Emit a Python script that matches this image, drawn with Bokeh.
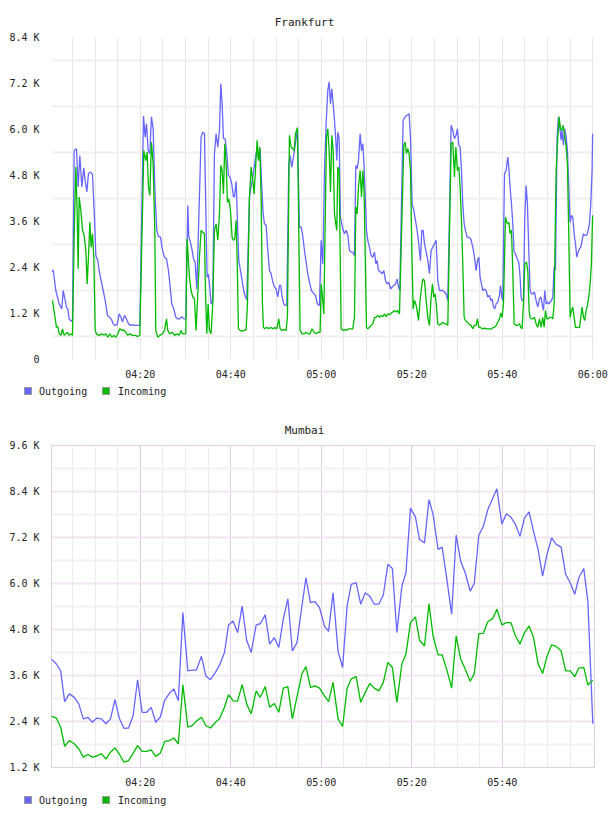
import datetime as dt

from bokeh.embed import file_html
from bokeh.layouts import column
from bokeh.models import DatetimeTickFormatter, Div, FixedTicker, Range1d, Title
from bokeh.plotting import figure
from bokeh.resources import INLINE

# ---------------------------------------------------------------------------
# Traffic samples: time in minutes after 04:00, rate in thousands (K)
# ---------------------------------------------------------------------------
FRA_OUT_T = [
    0.59, 0.74, 1.33, 2.06, 2.65, 2.95, 3.39, 3.68, 3.98, 4.27,
    4.71, 5.01, 5.38, 5.89, 6.26, 6.63, 7.07, 7.51, 7.81, 8.18,
    8.54, 8.99, 9.43, 9.80, 10.17, 10.61, 10.90, 11.34, 11.79, 12.23,
    12.74, 13.11, 13.55, 14.00, 14.44, 14.88, 15.32, 15.69, 16.06, 16.50,
    16.94, 17.38, 17.90, 18.42, 18.86, 19.37, 19.89, 20.70, 21.07, 21.36,
    21.73, 22.10, 22.46, 22.83, 23.28, 23.64, 24.01, 24.46, 24.90, 25.34,
    25.78, 26.22, 26.59, 26.96, 27.40, 27.84, 28.29, 28.73, 29.17, 29.61,
    30.05, 30.49, 30.71, 31.00, 31.45, 31.74, 32.11, 32.48, 33.43, 33.80,
    34.17, 34.54, 34.76, 35.06, 35.28, 35.64, 36.01, 36.38, 36.75, 37.12,
    37.49, 37.78, 38.08, 38.37, 38.74, 39.11, 39.47, 39.84, 40.21, 40.58,
    40.80, 41.17, 41.39, 41.76, 42.13, 42.50, 42.86, 43.23, 43.53, 44.12,
    44.48, 44.85, 45.22, 45.59, 45.88, 46.18, 46.47, 46.77, 47.14, 47.43,
    47.80, 48.17, 48.54, 48.90, 49.27, 49.64, 50.01, 50.38, 50.75, 51.04,
    51.33, 51.70, 52.07, 52.37, 52.81, 53.10, 53.47, 53.84, 54.28, 54.72,
    55.16, 55.53, 55.83, 56.27, 56.64, 57.01, 57.37, 57.82, 58.26, 58.70,
    59.14, 59.58, 59.96, 60.33, 60.70, 61.06, 61.43, 61.73, 62.02, 62.32,
    62.61, 62.91, 63.20, 63.42, 63.64, 63.94, 64.23, 64.53, 64.82, 65.12,
    65.48, 65.85, 66.22, 66.59, 66.96, 67.33, 67.62, 67.92, 68.21, 68.58,
    68.87, 69.17, 69.46, 69.98, 70.27, 70.64, 71.01, 71.38, 71.75, 72.04,
    72.33, 72.63, 73.07, 73.44, 73.81, 74.18, 74.54, 74.91, 75.28, 75.65,
    76.02, 76.39, 76.75, 77.05, 77.34, 78.08, 78.52, 78.96, 79.40, 79.70,
    80.07, 80.44, 80.80, 81.17, 81.54, 81.91, 82.21, 82.50, 82.79, 83.16,
    83.53, 83.90, 84.27, 84.64, 85.00, 85.37, 85.74, 86.11, 86.48, 86.85,
    87.21, 87.58, 87.95, 88.69, 89.06, 89.42, 89.79, 90.08, 90.38, 90.67,
    90.97, 91.26, 91.56, 91.85, 92.22, 92.59, 93.03, 93.47, 93.84, 94.21,
    94.50, 94.80, 95.09, 95.39, 95.68, 96.05, 96.42, 96.79, 97.16, 97.45,
    97.75, 98.04, 98.33, 98.63, 98.99, 99.37, 99.59, 99.88, 100.10, 100.47,
    100.84, 101.21, 101.43, 101.72, 102.02, 102.31, 102.61, 102.90, 103.27, 103.64,
    103.93, 104.15, 104.37, 104.67, 104.96, 105.26, 105.55, 105.85, 106.14, 106.44,
    106.73, 107.10, 107.47, 107.84, 108.21, 108.57, 108.79, 109.09, 109.38, 109.68,
    109.97, 110.27, 110.56, 110.86, 111.15, 111.45, 111.74, 112.11, 112.40, 112.70,
    112.99, 113.21, 113.51, 113.80, 114.10, 114.39, 114.98, 115.28, 115.57, 115.87,
    116.16, 116.46, 116.75, 117.05, 117.34, 117.63, 117.93, 118.22, 118.52, 118.81,
    119.25, 119.55, 119.84, 119.95,
]
FRA_OUT = [
    2.28, 2.34, 1.80, 1.45, 1.32, 1.80, 1.54, 1.35, 1.32, 1.06,
    1.00, 1.02, 5.45, 5.50, 4.50, 5.32, 4.50, 5.00, 4.67, 4.37,
    4.85, 4.89, 4.82, 3.89, 2.71, 2.58, 2.32, 2.06, 1.80, 1.54,
    1.15, 1.11, 1.06, 0.93, 0.89, 0.91, 1.19, 1.11, 0.98, 1.15,
    1.06, 0.93, 0.89, 0.91, 0.89, 0.89, 0.89, 6.35, 5.80, 6.15,
    5.45, 5.37, 6.33, 6.02, 4.24, 3.37, 3.21, 3.19, 2.85, 2.67,
    2.63, 2.32, 1.89, 1.45, 1.32, 1.10, 1.06, 1.06, 1.12, 1.06,
    1.06, 4.02, 3.19, 3.10, 2.85, 2.63, 2.54, 1.84, 5.80, 5.93,
    5.90, 3.50, 2.15, 2.22, 1.97, 1.45, 1.54, 5.37, 5.89, 5.54,
    5.98, 7.19, 6.67, 5.76, 5.76, 5.37, 4.80, 4.76, 4.58, 4.24,
    4.24, 4.65, 3.89, 2.58, 2.32, 2.06, 1.80, 1.63, 1.56, 4.24,
    4.50, 4.76, 5.06, 5.37, 5.50, 5.19, 5.50, 4.67, 3.80, 3.54,
    3.50, 2.85, 2.32, 2.24, 2.02, 1.89, 1.84, 1.63, 1.93, 1.93,
    1.63, 1.45, 1.41, 1.41, 5.10, 5.32, 5.02, 5.28, 5.63, 6.02,
    3.45, 3.45, 3.28, 2.85, 2.54, 2.24, 2.02, 1.80, 1.73, 1.67,
    1.45, 1.41, 3.11, 2.50, 4.93, 6.15, 7.02, 7.24, 6.67, 7.06,
    6.67, 6.24, 5.72, 5.19, 5.93, 5.76, 3.71, 3.54, 3.37, 3.28,
    3.37, 3.24, 2.85, 2.80, 2.80, 2.71, 5.06, 4.98, 5.19, 5.89,
    5.45, 5.63, 5.02, 3.37, 3.11, 2.93, 2.71, 2.67, 2.80, 2.50,
    2.58, 2.32, 2.28, 2.24, 2.32, 2.06, 1.97, 2.02, 1.84, 1.89,
    1.93, 1.97, 2.10, 1.89, 1.80, 6.24, 6.33, 6.37, 6.41, 5.80,
    4.06, 3.89, 3.63, 3.37, 3.02, 2.58, 3.37, 3.37, 3.02, 2.80,
    2.58, 2.24, 2.85, 2.93, 3.02, 3.11, 2.06, 1.80, 1.80, 1.80,
    1.76, 1.71, 1.54, 6.11, 5.98, 5.76, 5.85, 6.02, 5.59, 5.56,
    4.93, 4.06, 3.54, 3.37, 3.19, 3.19, 3.15, 2.93, 2.67, 2.32,
    2.58, 2.67, 2.15, 1.97, 1.80, 1.84, 1.80, 1.63, 1.67, 1.54,
    1.58, 1.37, 1.32, 1.45, 1.50, 1.67, 1.93, 1.63, 1.54, 4.85,
    4.93, 5.28, 5.02, 4.50, 4.06, 3.54, 2.80, 2.76, 2.63, 2.54,
    2.15, 1.63, 1.54, 1.54, 3.71, 4.54, 4.06, 2.85, 1.80, 1.71,
    1.71, 1.76, 1.54, 1.37, 1.58, 1.63, 1.45, 1.28, 1.80, 1.45,
    1.50, 1.45, 1.50, 1.54, 1.63, 2.41, 2.32, 5.80, 6.33, 6.07,
    5.72, 5.98, 5.59, 6.02, 5.80, 5.45, 3.58, 3.76, 3.71, 3.28,
    3.02, 2.67, 2.80, 2.89, 2.93, 3.11, 3.28, 3.24, 3.24, 3.28,
    3.54, 4.06, 4.93, 5.89,
]
FRA_IN_T = [
    0.59, 1.03, 1.47, 1.77, 2.06, 2.50, 2.80, 3.17, 3.54, 3.90,
    4.27, 4.71, 5.01, 5.45, 5.75, 6.04, 6.26, 6.48, 6.85, 7.22,
    7.59, 7.96, 8.25, 8.54, 8.84, 9.13, 9.43, 9.72, 10.02, 10.31,
    10.90, 11.49, 11.93, 12.37, 12.82, 13.26, 13.70, 14.14, 14.58, 15.03,
    15.47, 15.91, 16.35, 16.79, 17.24, 17.68, 18.27, 18.86, 19.37, 19.89,
    20.77, 21.21, 21.51, 21.80, 22.10, 22.46, 22.83, 23.20, 23.42, 23.87,
    24.31, 24.90, 25.34, 25.78, 26.07, 26.52, 27.11, 27.55, 28.14, 28.58,
    29.02, 29.32, 29.76, 30.05, 30.34, 30.86, 31.22, 31.59, 31.96, 32.33,
    33.07, 33.43, 33.80, 34.17, 34.39, 34.69, 34.98, 35.28, 35.64, 36.01,
    36.38, 36.75, 37.12, 37.49, 37.78, 38.08, 38.37, 38.66, 38.96, 39.25,
    39.55, 39.92, 40.28, 40.58, 40.87, 41.17, 41.39, 41.68, 42.05, 42.50,
    43.01, 43.38, 43.67, 44.12, 44.48, 44.85, 45.15, 45.44, 45.81, 46.10,
    46.40, 46.69, 46.99, 47.21, 47.50, 47.95, 48.39, 48.83, 49.27, 49.71,
    50.16, 50.60, 50.89, 51.33, 51.78, 52.22, 52.51, 52.95, 53.32, 53.69,
    53.99, 54.28, 54.72, 55.31, 55.75, 56.20, 56.64, 57.08, 57.52, 57.96,
    58.41, 58.85, 59.29, 59.73, 59.96, 60.25, 60.55, 61.14, 61.43, 61.73,
    62.02, 62.32, 62.61, 62.91, 63.20, 63.42, 63.64, 63.94, 64.38, 64.75,
    65.12, 65.48, 65.85, 66.22, 66.59, 66.96, 67.33, 67.62, 67.92, 68.21,
    68.58, 68.87, 69.17, 69.46, 69.98, 70.27, 70.64, 71.01, 71.38, 71.75,
    72.11, 72.48, 72.85, 73.22, 73.59, 73.96, 74.32, 74.69, 75.06, 75.43,
    75.80, 76.17, 76.53, 76.90, 77.27, 78.23, 78.52, 78.82, 79.11, 79.40,
    79.70, 79.99, 80.29, 80.58, 80.88, 81.17, 81.47, 81.76, 82.06, 82.43,
    82.79, 83.16, 83.53, 83.90, 84.27, 84.56, 84.86, 85.15, 85.45, 85.74,
    86.11, 86.48, 86.85, 87.21, 87.58, 87.95, 88.69, 89.06, 89.42, 89.72,
    90.08, 90.38, 90.67, 90.97, 91.26, 91.56, 91.85, 92.29, 92.74, 93.10,
    93.47, 93.84, 94.21, 94.50, 94.80, 95.09, 95.54, 96.05, 96.57, 97.01,
    97.45, 97.89, 98.26, 98.63, 98.99, 99.37, 99.66, 99.95, 100.25, 100.69,
    100.99, 101.21, 101.43, 101.72, 102.02, 102.31, 102.61, 103.05, 103.42, 103.79,
    104.08, 104.37, 104.67, 104.96, 105.33, 105.63, 105.92, 106.14, 106.44, 106.73,
    107.10, 107.47, 107.84, 108.21, 108.57, 108.94, 109.24, 109.53, 109.83, 110.12,
    110.42, 110.79, 111.15, 111.45, 111.89, 112.26, 112.55, 112.85, 113.14, 113.43,
    113.73, 114.10, 114.39, 114.69, 114.98, 115.28, 115.57, 115.87, 116.16, 116.61,
    117.05, 117.34, 117.63, 117.93, 118.22, 118.52, 118.81, 119.11, 119.40, 119.69,
    119.95,
]
FRA_IN = [
    1.54, 1.19, 0.84, 0.86, 0.67, 0.63, 0.80, 0.63, 0.67, 0.71,
    0.63, 0.67, 0.63, 3.63, 5.02, 3.80, 2.37, 4.24, 3.89, 3.37,
    3.24, 2.85, 1.97, 2.67, 3.58, 2.93, 3.28, 2.67, 0.76, 0.67,
    0.63, 0.67, 0.63, 0.67, 0.58, 0.67, 0.58, 0.63, 0.58, 0.67,
    0.80, 0.76, 0.77, 0.71, 0.63, 0.67, 0.63, 0.63, 0.60, 0.63,
    5.45, 5.19, 5.41, 4.50, 4.28, 5.67, 5.10, 3.37, 0.76, 0.58,
    0.63, 0.67, 0.76, 1.06, 0.76, 0.67, 0.71, 0.63, 0.67, 0.63,
    0.76, 0.67, 0.67, 0.67, 3.15, 2.15, 1.80, 1.63, 1.58, 0.76,
    2.67, 3.37, 3.32, 3.28, 1.80, 0.67, 1.45, 0.76, 0.67, 1.45,
    3.37, 3.54, 3.11, 3.80, 5.06, 4.93, 4.32, 5.63, 5.10, 4.10,
    4.19, 3.89, 3.19, 3.11, 3.15, 3.63, 2.67, 0.80, 0.76, 0.74,
    0.76, 0.78, 1.45, 4.24, 5.02, 4.67, 4.32, 4.93, 5.72, 5.19,
    5.54, 4.24, 1.45, 0.84, 0.80, 0.84, 0.80, 0.84, 0.80, 0.83,
    0.80, 1.06, 0.80, 0.76, 0.78, 0.76, 1.11, 5.85, 5.54, 5.50,
    5.45, 5.89, 6.05, 0.76, 0.67, 0.67, 0.71, 0.67, 0.67, 0.80,
    0.71, 0.67, 0.71, 0.71, 1.97, 1.63, 1.19, 5.80, 6.02, 5.45,
    4.37, 5.85, 5.45, 3.80, 3.54, 3.37, 5.02, 4.93, 0.80, 0.76,
    0.78, 0.76, 0.79, 0.80, 0.80, 0.80, 1.11, 3.98, 3.80, 4.50,
    4.93, 4.24, 4.93, 4.32, 0.84, 0.80, 0.84, 0.89, 0.93, 1.10,
    1.10, 1.15, 1.10, 1.15, 1.12, 1.19, 1.12, 1.19, 1.17, 1.21,
    1.24, 1.28, 1.24, 1.28, 1.19, 5.59, 5.67, 5.37, 5.50, 5.37,
    4.93, 2.93, 1.32, 1.54, 1.45, 1.28, 1.02, 1.45, 1.80, 2.10,
    2.06, 1.54, 1.10, 0.89, 1.63, 1.97, 1.63, 1.71, 1.37, 0.93,
    0.89, 0.93, 0.97, 0.93, 0.93, 0.89, 5.63, 5.67, 4.76, 5.54,
    4.93, 5.02, 4.50, 3.63, 2.50, 1.10, 1.02, 0.97, 0.91, 0.89,
    0.80, 0.89, 0.89, 1.06, 0.84, 0.84, 0.80, 0.82, 0.80, 0.80,
    0.79, 0.83, 0.84, 0.89, 0.97, 1.06, 1.21, 1.10, 1.45, 3.71,
    3.58, 3.54, 3.58, 3.28, 3.37, 2.32, 0.93, 0.89, 0.89, 0.93,
    0.84, 0.80, 1.45, 2.50, 2.54, 2.32, 1.28, 1.10, 1.06, 1.06,
    1.10, 0.93, 0.84, 1.06, 0.84, 1.10, 0.84, 1.28, 1.06, 1.06,
    1.10, 1.10, 1.06, 1.45, 4.93, 5.80, 6.33, 6.02, 5.98, 6.11,
    5.89, 5.54, 5.10, 3.20, 1.10, 1.28, 1.37, 1.10, 0.84, 0.84,
    0.83, 1.10, 1.37, 1.10, 1.02, 1.28, 1.41, 1.63, 1.97, 2.50,
    3.76,
]

MUM_T = [
    0.33, 1.44, 2.4, 3.28, 4.3, 5.4, 6.4, 7.4, 8.4, 9.4,
    10.4, 11.4, 12.4, 13.4, 14.4, 15.4, 16.4, 17.4, 18.4, 19.4,
    20.4, 21.4, 22.4, 23.4, 24.4, 25.4, 26.4, 27.4, 28.4, 29.4,
    30.5, 31.4, 32.4, 33.5, 34.5, 35.5, 36.6, 37.5, 38.6, 39.5,
    40.5, 41.5, 42.5, 43.5, 44.5, 45.6, 46.5, 47.6, 48.6, 49.6,
    50.6, 51.6, 52.6, 53.6, 54.6, 55.7, 56.6, 57.6, 58.6, 59.6,
    60.7, 61.6, 62.6, 63.7, 64.7, 65.7, 66.6, 67.7, 68.7, 69.7,
    70.7, 71.7, 72.7, 73.7, 74.7, 75.7, 76.7, 77.8, 78.7, 79.7,
    80.8, 81.7, 82.8, 83.8, 84.7, 85.8, 86.7, 87.8, 88.8, 89.8,
    90.8, 91.8, 92.9, 93.8, 94.8, 95.8, 96.8, 97.9, 98.8, 99.9,
    100.9, 101.9, 102.9, 103.9, 104.9, 105.9, 106.9, 107.9, 108.9, 109.9,
    110.9, 111.9, 113.0, 114.0, 115.0, 116.0, 116.9, 118.0, 118.9, 120.0,
]
MUM_OUT = [
    4.03, 3.90, 3.72, 2.92, 3.12, 3.03, 2.86, 2.47, 2.51, 2.38,
    2.49, 2.47, 2.34, 2.47, 2.97, 2.47, 2.22, 2.23, 2.55, 3.49,
    2.64, 2.64, 2.77, 2.38, 2.51, 2.96, 3.13, 3.25, 2.94, 5.24,
    3.72, 3.74, 3.74, 4.10, 3.59, 3.49, 3.68, 3.87, 4.20, 4.92,
    5.02, 4.72, 5.41, 4.52, 4.20, 4.92, 4.95, 5.18, 4.42, 4.59,
    4.33, 5.07, 5.60, 4.24, 4.45, 5.40, 6.15, 5.50, 5.53, 5.37,
    4.89, 4.75, 5.76, 4.23, 3.81, 5.41, 5.98, 6.02, 5.46, 5.76,
    5.67, 5.46, 5.46, 5.70, 6.50, 6.39, 4.72, 5.93, 6.28, 7.97,
    7.73, 7.15, 7.06, 8.19, 7.80, 6.89, 6.95, 6.06, 5.20, 7.26,
    6.58, 6.28, 5.80, 6.00, 7.26, 7.49, 7.93, 8.23, 8.47, 7.55,
    7.82, 7.73, 7.54, 7.23, 7.71, 7.87, 7.36, 6.89, 6.19, 6.77,
    7.19, 7.02, 6.95, 6.24, 6.02, 5.72, 6.15, 6.39, 5.54, 2.34,
]
MUM_IN = [
    2.54, 2.49, 2.25, 1.75, 1.90, 1.82, 1.69, 1.47, 1.54, 1.47,
    1.50, 1.56, 1.42, 1.60, 1.71, 1.54, 1.34, 1.38, 1.57, 1.77,
    1.62, 1.62, 1.66, 1.49, 1.57, 1.88, 1.90, 1.97, 1.82, 3.36,
    2.25, 2.29, 2.41, 2.51, 2.29, 2.23, 2.38, 2.47, 2.77, 3.10,
    2.94, 2.93, 3.36, 2.86, 2.60, 3.20, 3.03, 3.31, 2.77, 2.87,
    2.64, 3.27, 3.31, 2.47, 3.03, 3.64, 3.83, 3.29, 3.33, 3.27,
    3.07, 2.92, 3.42, 2.47, 2.27, 3.27, 3.51, 3.57, 2.90, 3.16,
    3.39, 3.27, 3.20, 3.42, 3.94, 3.81, 2.90, 3.90, 4.16, 4.98,
    5.13, 4.52, 4.37, 5.47, 4.63, 4.14, 4.14, 3.72, 3.27, 4.63,
    4.03, 3.77, 3.45, 3.65, 4.69, 4.70, 5.00, 5.09, 5.33, 4.92,
    4.98, 4.98, 4.63, 4.42, 4.72, 4.89, 4.59, 3.91, 3.65, 4.11,
    4.40, 4.36, 4.24, 3.72, 3.72, 3.57, 3.79, 3.81, 3.35, 3.48,
]

FRA_Y_TICKS = [0, 1200, 2400, 3600, 4800, 6000, 7200, 8400]
MUM_Y_TICKS = [1200, 2400, 3600, 4800, 6000, 7200, 8400, 9600]
FRA_TIME_TICKS = [20, 40, 60, 80, 100, 120]   # minutes after 04:00
MUM_TIME_TICKS = [20, 40, 60, 80, 100]
SERIES_NAMES = ["Outgoing", "Incoming"]

OUT_COLOR = "#6666ff"
IN_COLOR = "#00bb00"
MONO = "DejaVu Sans Mono"
TEXT_COLOR = "#222222"

BASE = dt.datetime(2013, 1, 1, 4, 0, 0)
EPOCH = dt.datetime(1970, 1, 1)
X_START, X_END = 0.37, 120.37


def ms(minutes):
    """Minutes after 04:00 -> epoch milliseconds for the datetime axis."""
    return (BASE - EPOCH).total_seconds() * 1000.0 + minutes * 60000.0


def k_label(v):
    return "0" if v == 0 else f"{v / 1000:.1f} K"


def make_chart(name, t_out, v_out, t_in, v_in, y_ticks, time_ticks, framed):
    p = figure(width=608, height=384, x_axis_type="datetime",
               x_range=Range1d(ms(X_START), ms(X_END)),
               y_range=Range1d(y_ticks[0], y_ticks[-1]),
               output_backend="svg", toolbar_location=None,
               min_border_left=51, min_border_right=14,
               min_border_top=37, min_border_bottom=25)
    p.background_fill_color = "white"
    p.border_fill_color = "white"

    char_w = 11 * 0.602
    title = Title(text=name, align="left", text_font=MONO,
                  text_font_size="11px", text_font_style="normal",
                  text_color=TEXT_COLOR, standoff=18,
                  offset=(304 - 51) - len(name) * char_w / 2)
    p.add_layout(title, "above")

    # axes: labels only
    for ax in (p.xaxis[0], p.yaxis[0]):
        ax.axis_line_color = None
        ax.major_tick_line_color = None
        ax.minor_tick_line_color = None
        ax.major_label_text_font = MONO
        ax.major_label_text_font_size = "10px"
        ax.major_label_text_color = TEXT_COLOR

    p.yaxis.ticker = FixedTicker(ticks=y_ticks)
    p.yaxis.major_label_overrides = {v: k_label(v) for v in y_ticks}
    p.yaxis.major_label_standoff = 6

    p.xaxis.ticker = FixedTicker(ticks=[ms(m) for m in time_ticks])
    p.xaxis.formatter = DatetimeTickFormatter(minutes="%H:%M", hourmin="%H:%M",
                                              hours="%H:%M")
    p.xaxis.major_label_standoff = 3

    five_min = [m for m in range(5, 121, 5)]
    half_steps = [(a + b) / 2 for a, b in zip(y_ticks[:-1], y_ticks[1:])]
    if framed:
        p.outline_line_color = "#e2cfe2"
        p.outline_line_width = 1
        p.xgrid.ticker = FixedTicker(
            ticks=[ms(m) for m in time_ticks],
            minor_ticks=[ms(m) for m in five_min if m not in time_ticks and m < 120])
        p.xgrid.grid_line_color = "#e2cce2"
        p.xgrid.minor_grid_line_color = "#ebebeb"
        p.ygrid.ticker = FixedTicker(ticks=y_ticks, minor_ticks=half_steps)
        p.ygrid.grid_line_color = "#f2e6f2"
        p.ygrid.grid_line_width = 2
        p.ygrid.minor_grid_line_color = "#f2f2f2"
        p.ygrid.minor_grid_line_width = 2
    else:
        p.outline_line_color = None
        p.xgrid.ticker = FixedTicker(ticks=[ms(m) for m in five_min])
        p.xgrid.grid_line_color = "#e6e6e6"
        p.ygrid.ticker = FixedTicker(ticks=half_steps)
        p.ygrid.grid_line_color = "#f0f0f0"
        p.ygrid.grid_line_width = 2

    p.line([ms(t) for t in t_out], [v * 1000 for v in v_out],
           line_color=OUT_COLOR, line_width=1.3)
    p.line([ms(t) for t in t_in], [v * 1000 for v in v_in],
           line_color=IN_COLOR, line_width=1.3)
    return p


def make_legend_strip(top_px):
    """Colour swatches and series names laid out under a chart."""
    swatch_x = [24, 102]
    label_x = [39, 118]
    parts = []
    for name, color, sx, lx in zip(SERIES_NAMES, (OUT_COLOR, IN_COLOR),
                                   swatch_x, label_x):
        parts.append(
            f'<span style="position:absolute;left:{sx}px;top:{top_px}px;'
            f'width:8px;height:8px;background:{color};'
            f'border:1px solid #999999;"></span>')
        parts.append(
            f'<span style="position:absolute;left:{lx}px;top:{top_px - 1}px;'
            f'line-height:12px;white-space:nowrap;">{name}</span>')
    html = ('<div style="position:relative;width:608px;height:24px;'
            f"font-family:'{MONO}';font-size:10px;color:{TEXT_COLOR};\">"
            + "".join(parts) + "</div>")
    return Div(text=html, width=608, height=24, margin=0)


top = make_chart("Frankfurt", FRA_OUT_T, FRA_OUT, FRA_IN_T, FRA_IN,
                 FRA_Y_TICKS, FRA_TIME_TICKS, framed=False)
bottom = make_chart("Mumbai", MUM_T, MUM_OUT, MUM_T, MUM_IN,
                    MUM_Y_TICKS, MUM_TIME_TICKS, framed=True)

layout = column(top, make_legend_strip(3), bottom, make_legend_strip(4),
                spacing=0)
open("out.html", "w").write(file_html(layout, INLINE))
